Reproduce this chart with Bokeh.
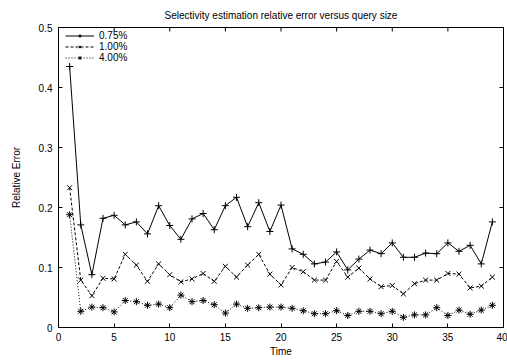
import math
from bokeh.plotting import figure
from bokeh.models import Range1d, FixedTicker, PrintfTickFormatter, Legend, LegendItem
from bokeh.embed import file_html
from bokeh.resources import INLINE

# ---- data ----
time = list(range(1, 40))
err_075 = [0.435, 0.171, 0.088, 0.182, 0.187, 0.171, 0.176, 0.156, 0.203, 0.170,
           0.147, 0.181, 0.190, 0.163, 0.203, 0.217, 0.168, 0.208, 0.160, 0.204,
           0.131, 0.122, 0.106, 0.109, 0.126, 0.096, 0.114, 0.129, 0.123, 0.141,
           0.117, 0.117, 0.124, 0.123, 0.141, 0.127, 0.137, 0.106, 0.176]
err_100 = [0.233, 0.079, 0.053, 0.082, 0.081, 0.122, 0.104, 0.077, 0.106, 0.088,
           0.076, 0.081, 0.090, 0.077, 0.102, 0.084, 0.104, 0.122, 0.089, 0.071,
           0.100, 0.093, 0.079, 0.079, 0.110, 0.084, 0.099, 0.081, 0.068, 0.070,
           0.056, 0.073, 0.079, 0.079, 0.090, 0.089, 0.066, 0.069, 0.084]
err_400 = [0.188, 0.027, 0.034, 0.033, 0.026, 0.045, 0.043, 0.037, 0.039, 0.033,
           0.054, 0.043, 0.045, 0.038, 0.024, 0.039, 0.032, 0.033, 0.034, 0.034,
           0.032, 0.028, 0.023, 0.023, 0.028, 0.020, 0.027, 0.027, 0.023, 0.027,
           0.017, 0.021, 0.021, 0.033, 0.020, 0.029, 0.022, 0.029, 0.037]
series_labels = ["0.75%", "1.00%", "4.00%"]
x_ticks = [0, 5, 10, 15, 20, 25, 30, 35, 40]
y_ticks = [0, 0.1, 0.2, 0.3, 0.4, 0.5]
title_text = "Selectivity estimation relative error versus query size"
x_label = "Time"
y_label = "Relative Error"

FONT = "Liberation Sans"
W, H = 507, 360
ML, MR, MT, MB = 58, 4, 27, 33

xr = Range1d(0, 40)
yr = Range1d(0, 0.5)
p = figure(width=W, height=H, output_backend="svg", toolbar_location=None,
           x_range=xr, y_range=yr, title=title_text,
           x_axis_label=x_label, y_axis_label=y_label,
           min_border_left=ML, min_border_right=MR, min_border_top=MT, min_border_bottom=MB)

p.title.align = "center"
p.title.text_font = FONT
p.title.text_font_size = "10px"
p.title.text_font_style = "normal"
p.title.text_color = "black"
p.title.standoff = 14

p.grid.visible = False
p.outline_line_color = "black"
p.outline_line_width = 1
p.background_fill_color = "white"
p.border_fill_color = "white"

p.xaxis.ticker = FixedTicker(ticks=x_ticks)
p.yaxis.ticker = FixedTicker(ticks=y_ticks)
p.yaxis.formatter = PrintfTickFormatter(format="%g")
p.xaxis.formatter = PrintfTickFormatter(format="%g")

for ax in [p.xaxis[0], p.yaxis[0]]:
    ax.major_tick_in = 4
    ax.major_tick_out = 0
    ax.minor_tick_in = 0
    ax.minor_tick_out = 0
    ax.axis_line_color = "black"
    ax.major_tick_line_color = "black"
    ax.major_label_text_font = FONT
    ax.major_label_text_font_size = "10px"
    ax.major_label_text_color = "black"
    ax.axis_label_text_font = FONT
    ax.axis_label_text_font_size = "10px"
    ax.axis_label_text_font_style = "normal"
    ax.axis_label_text_color = "black"
p.xaxis.major_label_standoff = 5
p.xaxis.axis_label_standoff = 2
p.yaxis.major_label_standoff = 6
p.yaxis.axis_label_standoff = 14

# mirrored tick marks on the top and right frame edges (clipped to frame -> inward ticks)
p.scatter(x_ticks, [yr.end] * len(x_ticks), marker="dash", angle=math.pi / 2, size=8,
          line_color="black", line_width=1)
p.scatter([xr.end] * len(y_ticks), y_ticks, marker="dash", size=8,
          line_color="black", line_width=1)

styles = [
    (err_075, "solid", "cross"),
    (err_100, "3 2", "x"),
    (err_400, "1 2", "asterisk"),
]
items = []
for (vals, dash, marker), lab in zip(styles, series_labels):
    l = p.line(time, vals, line_color="black", line_width=1, line_dash=dash)
    s = p.scatter(time, vals, marker=marker, size=7, line_color="black", line_width=1,
                  fill_color="black")
    items.append(LegendItem(label=lab, renderers=[l, s]))

legend = Legend(items=items, location=(7, 264),
                glyph_width=29, glyph_height=9, label_height=9,
                label_standoff=5, spacing=0, padding=0, margin=0,
                border_line_alpha=0, background_fill_alpha=0, label_text_font=FONT,
                label_text_font_size="10px", label_text_color="black")
p.add_layout(legend)

open("out.html", "w").write(file_html(p, INLINE))
